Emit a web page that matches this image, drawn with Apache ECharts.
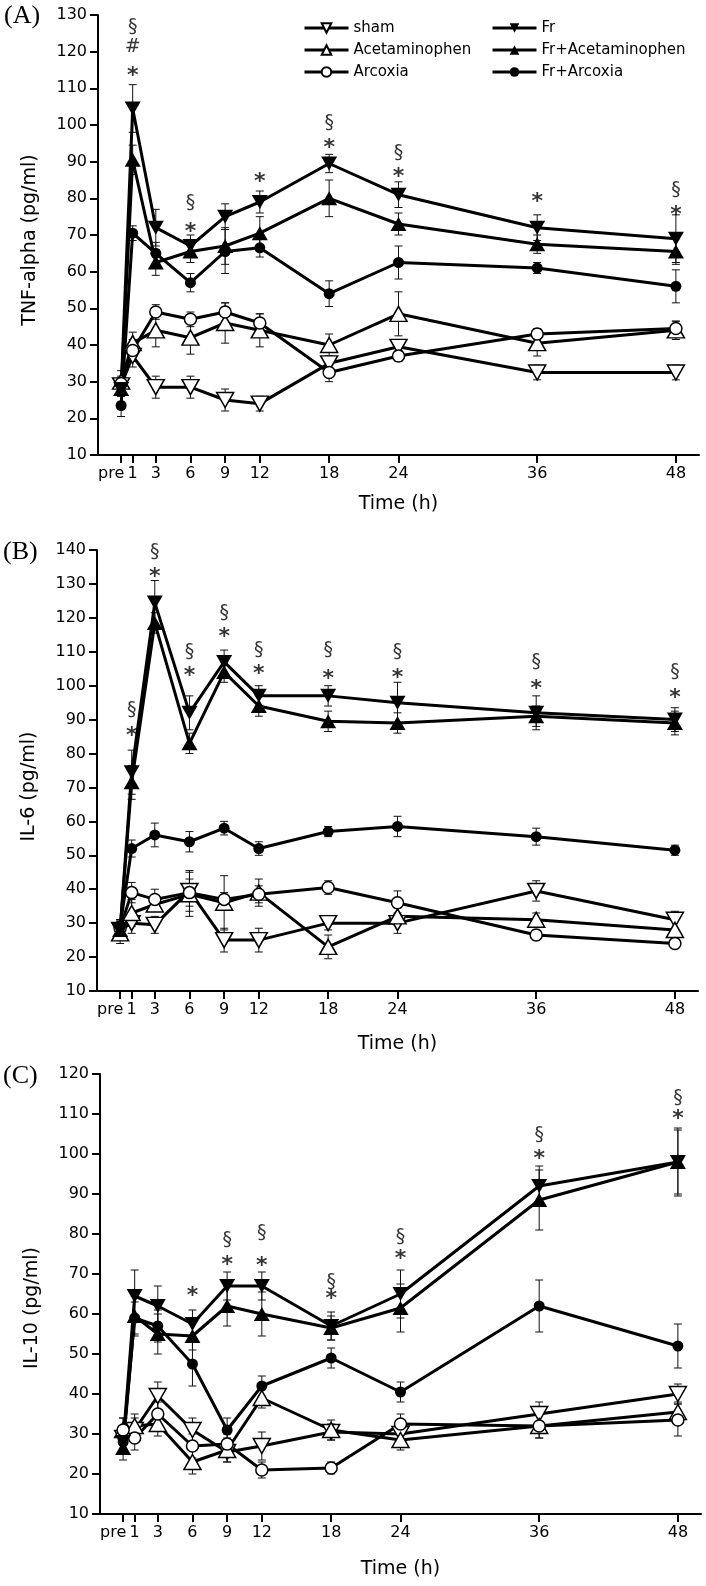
<!DOCTYPE html>
<html><head><meta charset="utf-8">
<script src="https://cdn.jsdelivr.net/npm/echarts@6/dist/echarts.min.js"></script>
<style>html,body{margin:0;padding:0;background:#fff}#c{width:706px;height:1586px}</style>
</head><body><div id="c"></div>
<script>
// ---------- DATA ----------
const hours = [0, 1, 3, 6, 9, 12, 18, 24, 36, 48];
const tickLabels = ['pre', '1', '3', '6', '9', '12', '18', '24', '36', '48'];
const seriesNames = ['sham', 'Acetaminophen', 'Arcoxia', 'Fr', 'Fr+Acetaminophen', 'Fr+Arcoxia'];

// (A) TNF-alpha
const tnfSham      = [29, 37, 28.5, 28.5, 25, 24, 35, 39.5, 32.5, 32.5];
const tnfAcet      = [30, 40.5, 44, 42, 46, 44, 40, 48.5, 40.5, 44];
const tnfArcoxia   = [29.5, 38.5, 49, 47, 49, 46, 32.5, 37, 43, 44.5];
const tnfFr        = [28, 104.5, 72, 67, 75, 79, 89.5, 81, 72, 69];
const tnfFrAcet    = [28, 90.5, 62.5, 65.5, 67, 70.5, 80, 73, 67.5, 65.5];
const tnfFrArcoxia = [23.5, 70.5, 65, 57, 65.5, 66.5, 54, 62.5, 61, 56];
const tnfShamErr      = [2, 3, 3, 3, 3, 2, 2, 2, 2, 2];
const tnfAcetErr      = [3, 3, 4.5, 4.5, 5.5, 4.5, 3, 6, 3.5, 2.5];
const tnfArcoxiaErr   = [2, 3, 2, 2, 2.5, 2.5, 2.5, 1.5, 1.5, 2];
const tnfFrErr        = [2, 6.5, 5, 3, 3.5, 3, 2.5, 3.5, 3.5, 6.5];
const tnfFrAcetErr    = [2, 4, 3.5, 3, 5, 4.5, 5, 3, 2.5, 3.5];
const tnfFrArcoxiaErr = [3, 2, 3, 2.5, 6, 2.5, 3.5, 4.5, 1.5, 4.5];
const tnfMarks = [[1,126.8,'§'],[1,121.3,'#'],[1,115,'*'],[6,78.8,'§'],[6,72.3,'*'],[12,85.9,'*'],
  [18,100.6,'§'],[18,95.2,'*'],[24,92.4,'§'],[24,87.3,'*'],[36,80.5,'*'],[48,82.3,'§'],[48,77.1,'*']];

// (B) IL-6
const il6Sham      = [28, 30, 29.5, 39.5, 25, 25, 30, 30, 39.5, 31];
const il6Acet      = [27, 33, 35.5, 38.5, 36, 39, 23, 32, 31, 28];
const il6Arcoxia   = [28.5, 39, 37, 39, 37, 38.5, 40.5, 36, 26.5, 24];
const il6Fr        = [28, 74.5, 124.5, 92, 107, 97, 97, 95, 92, 90];
const il6FrAcet    = [28, 71.5, 118.5, 83, 104, 94, 89.5, 89, 91, 89];
const il6FrArcoxia = [29, 52, 56, 54, 58, 52, 57, 58.5, 55.5, 51.5];
const il6ShamErr      = [3, 3, 2.5, 6, 3.5, 3.5, 2, 3, 3, 2.5];
const il6AcetErr      = [3, 4, 2, 6.5, 8, 4, 3.5, 2.5, 2, 3];
const il6ArcoxiaErr   = [2, 3, 3, 4, 2, 2.5, 2, 3.5, 1.5, 1.5];
const il6FrErr        = [3, 6.5, 6.5, 5, 3.5, 3, 3, 6, 5, 3.5];
const il6FrAcetErr    = [3, 5, 3, 3, 3, 3, 3, 3, 3, 3.5];
const il6FrArcoxiaErr = [2, 2.5, 3.5, 3, 2, 2, 1.5, 3, 2.5, 1.5];
const il6Marks = [[1,92.8,'§'],[1,87,'*'],[3,139.5,'§'],[3,133.6,'*'],[6,110,'§'],[6,104.6,'*'],
  [9,121.3,'§'],[9,116,'*'],[12,110.5,'§'],[12,105,'*'],[18,110.5,'§'],[18,103.7,'*'],
  [24,110,'§'],[24,104.1,'*'],[36,107.1,'§'],[36,100.7,'*'],[48,104.1,'§'],[48,98.2,'*']];

// (C) IL-10
const il10Sham      = [29, 31, 39.5, 31, 25.5, 27, 30.5, 30, 35, 40];
const il10Acet      = [31, 32, 32.5, 23, 26, 39, 31, 28.5, 32, 35.5];
const il10Arcoxia   = [31, 29, 35, 27, 27.5, 21, 21.5, 32.5, 32, 33.5];
const il10Fr        = [28, 64.5, 62, 57.5, 67, 67, 57, 65, 92, 98];
const il10FrAcet    = [26.5, 59.5, 55, 54.5, 62, 60, 56.5, 61.5, 88.5, 98];
const il10FrArcoxia = [28, 59, 57, 47.5, 31, 42, 49, 40.5, 62, 52];
const il10ShamErr      = [3, 3, 3.5, 3, 2.5, 3.5, 2, 2.5, 3, 2.5];
const il10AcetErr      = [3, 3, 3, 3, 3, 2.5, 2.5, 2.5, 3, 2.5];
const il10ArcoxiaErr   = [3, 3, 3, 3, 2.5, 2, 1.5, 2.5, 3, 4];
const il10FrErr        = [3, 6.5, 5, 3.5, 3.5, 3.5, 3.5, 6, 5, 8];
const il10FrAcetErr    = [3, 5, 5, 3.5, 5, 5.5, 3, 6, 7.5, 8.5];
const il10FrArcoxiaErr = [3, 4, 4, 5.5, 3, 2.5, 2.5, 2.5, 6.5, 5.5];
const il10Marks = [[6,66,'*'],[9,78.5,'§'],[9,73.7,'*'],[12,80.2,'§'],[12,73.5,'*'],[18,68.1,'§'],
  [18,65.2,'*'],[24,79.3,'§'],[24,75.3,'*'],[36,104.75,'§'],[36,100.2,'*'],[48,113.9,'§'],[48,110.2,'*']];

// ---------- LAYOUT / STYLE ----------
const FONT = 'DejaVu Sans';
const panels = [
  { vals: [tnfSham, tnfAcet, tnfArcoxia, tnfFr, tnfFrAcet, tnfFrArcoxia],
    errs: [tnfShamErr, tnfAcetErr, tnfArcoxiaErr, tnfFrErr, tnfFrAcetErr, tnfFrArcoxiaErr],
    marks: tnfMarks, yMin: 10, yMax: 130, yName: 'TNF-alpha (pg/ml)', tag: '(A)',
    grid: { left: 98, top: 15, width: 601, height: 440 }, xGap: 40, yPad: 10, tagPos: [4, 3] },
  { vals: [il6Sham, il6Acet, il6Arcoxia, il6Fr, il6FrAcet, il6FrArcoxia],
    errs: [il6ShamErr, il6AcetErr, il6ArcoxiaErr, il6FrErr, il6FrAcetErr, il6FrArcoxiaErr],
    marks: il6Marks, yMin: 10, yMax: 140, yName: 'IL-6 (pg/ml)', tag: '(B)',
    grid: { left: 97, top: 550, width: 601, height: 441 }, xGap: 44, yPad: 32, tagPos: [3, 539] },
  { vals: [il10Sham, il10Acet, il10Arcoxia, il10Fr, il10FrAcet, il10FrArcoxia],
    errs: [il10ShamErr, il10AcetErr, il10ArcoxiaErr, il10FrErr, il10FrAcetErr, il10FrArcoxiaErr],
    marks: il10Marks, yMin: 10, yMax: 120, yName: 'IL-10 (pg/ml)', tag: '(C)',
    grid: { left: 100, top: 1074, width: 601, height: 440 }, xGap: 46, yPad: 28, tagPos: [3, 1063] }
];

const looks = [
  { symbol: 'triangle', rot: 180, size: [17, 15], filled: false },
  { symbol: 'triangle', rot: 0,   size: [17, 15], filled: false },
  { symbol: 'circle',   rot: 0,   size: 12,       filled: false },
  { symbol: 'triangle', rot: 180, size: [16, 14], filled: true },
  { symbol: 'triangle', rot: 0,   size: [16, 14], filled: true },
  { symbol: 'circle',   rot: 0,   size: 11,       filled: true }
];

const grids = [], xAxes = [], yAxes = [], series = [], graphics = [];

panels.forEach((p, gi) => {
  grids.push(Object.assign({ containLabel: false }, p.grid));
  xAxes.push({
    type: 'value', gridIndex: gi, min: -2, max: 50, interval: 1,
    axisLine: { show: true, onZero: false, lineStyle: { color: '#000', width: 2 } },
    axisTick: { show: true, length: 8, lineStyle: { color: '#000', width: 2 }, customValues: hours },
    axisLabel: {
      customValues: hours, color: '#000', fontFamily: FONT, fontSize: 16, margin: 11,
      formatter: v => { const i = hours.indexOf(v); const t = i >= 0 ? tickLabels[i] : ''; return v === 0 ? '{pre|' + t + '}' : t; },
      rich: { pre: { fontFamily: FONT, fontSize: 16, color: '#000', padding: [0, 20, 0, 0] } }
    },
    splitLine: { show: false },
    name: 'Time (h)', nameLocation: 'middle', nameGap: p.xGap,
    nameTextStyle: { fontFamily: FONT, fontSize: 19, color: '#000' }
  });
  yAxes.push({
    type: 'value', gridIndex: gi, min: p.yMin, max: p.yMax, interval: 10,
    axisLine: { show: true, onZero: false, lineStyle: { color: '#000', width: 2 } },
    axisTick: { show: true, length: 8, lineStyle: { color: '#000', width: 2 } },
    axisLabel: { color: '#000', fontFamily: FONT, fontSize: 16, margin: 11 },
    splitLine: { show: false },
    name: p.yName, nameLocation: 'middle', nameGap: 58,
    nameTextStyle: { fontFamily: FONT, fontSize: 19, color: '#000', padding: [0, p.yPad, 0, 0] }
  });

  // error bars
  p.vals.forEach((vals, si) => {
    const errs = p.errs[si];
    series.push({
      type: 'custom', xAxisIndex: gi, yAxisIndex: gi, silent: true, z: 1,
      data: hours.map((h, i) => [h, vals[i] - errs[i], vals[i] + errs[i]]),
      encode: { x: 0, y: [1, 2] },
      renderItem: (params, api) => {
        const x = api.value(0);
        const lo = api.coord([x, api.value(1)]);
        const hi = api.coord([x, api.value(2)]);
        const w = 4;
        const st = { stroke: '#111', lineWidth: 1 };
        return { type: 'group', children: [
          { type: 'line', shape: { x1: lo[0], y1: lo[1], x2: hi[0], y2: hi[1] }, style: st },
          { type: 'line', shape: { x1: lo[0] - w, y1: lo[1], x2: lo[0] + w, y2: lo[1] }, style: st },
          { type: 'line', shape: { x1: hi[0] - w, y1: hi[1], x2: hi[0] + w, y2: hi[1] }, style: st }
        ] };
      }
    });
  });

  // lines with markers
  p.vals.forEach((vals, si) => {
    const lk = looks[si];
    series.push({
      type: 'line', name: seriesNames[si], xAxisIndex: gi, yAxisIndex: gi, z: 3,
      data: hours.map((h, i) => [h, vals[i]]),
      symbol: lk.symbol, symbolSize: lk.size, symbolRotate: lk.rot, showAllSymbol: true,
      lineStyle: { color: '#000', width: 3 },
      itemStyle: lk.filled ? { color: '#000', borderColor: '#000', borderWidth: 0 }
                           : { color: '#fff', borderColor: '#000', borderWidth: 1.5 },
      emphasis: { disabled: true }
    });
  });

  // significance marks
  series.push({
    type: 'scatter', xAxisIndex: gi, yAxisIndex: gi, silent: true, z: 6,
    symbol: 'circle', symbolSize: 1, itemStyle: { color: 'rgba(0,0,0,0)' },
    data: p.marks.map(m => ({
      value: [m[0], m[1]],
      label: {
        formatter: m[2],
        fontSize: m[2] === '*' ? 22 : 19,
        fontWeight: m[2] === '*' ? 'bold' : 'normal',
        offset: [0, m[2] === '*' ? 6 : 0]
      }
    })),
    label: { show: true, position: 'inside', color: '#000', fontFamily: FONT }
  });

  graphics.push({ type: 'text', left: p.tagPos[0], top: p.tagPos[1], silent: true,
    style: { text: p.tag, font: '26px "Liberation Serif"', fill: '#000' } });
});

const legendCommon = {
  orient: 'vertical', itemWidth: 44, itemHeight: 12, itemGap: 6, padding: 0, selectedMode: false,
  lineStyle: { color: '#000', width: 3 },
  textStyle: { fontFamily: FONT, fontSize: 15, color: '#000', lineHeight: 16 }
};

const option = {
  animation: false,
  backgroundColor: '#fff',
  grid: grids, xAxis: xAxes, yAxis: yAxes, series: series,
  legend: [
    Object.assign({ data: seriesNames.slice(0, 3), left: 303, top: 20 }, legendCommon),
    Object.assign({ data: seriesNames.slice(3), left: 491, top: 20 }, legendCommon)
  ],
  graphic: graphics
};

const chart = echarts.init(document.getElementById('c'), null, { renderer: 'canvas', width: 706, height: 1586 });
chart.setOption(option);
</script>
</body></html>
